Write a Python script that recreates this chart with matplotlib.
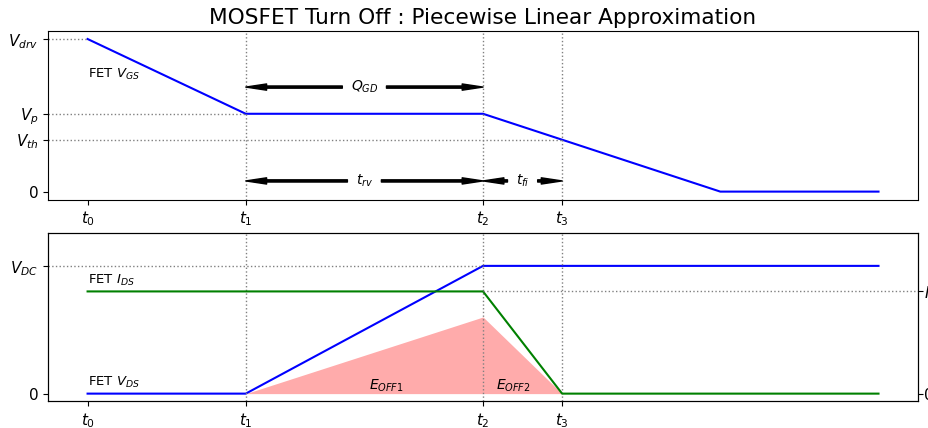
import matplotlib
matplotlib.use("Agg")
import matplotlib.pyplot as plt

# time instants of the piecewise waveforms
t = [0, 1, 2.5, 3, 4, 5]
t_ticks = [0, 1, 2.5, 3]
t_labels = ['$t_0$', '$t_1$', '$t_2$', '$t_3$']

# gate drive levels
v_drv = 10.0
v_p = 5.1
v_th = 3.4
vgs = [v_drv, v_p, v_p, v_th, 0, 0]

# drain side, normalised to V_DC
v_dc = 1.0
i_ds = 0.8
vds = [0, 0, v_dc, v_dc, v_dc, v_dc]
ids = [i_ds, i_ds, i_ds, 0, 0, 0]
p_loss = [0, 0, 0.6, 0, 0, 0]

fig = plt.figure(figsize=(9.29, 4.28), dpi=100)
ax1 = fig.add_axes([0.0517, 0.5327, 0.9365, 0.394])
ax2 = fig.add_axes([0.0517, 0.0624, 0.9365, 0.394])

xlim = (-0.25, 5.25)
dot = dict(color='gray', linestyle=':', linewidth=1)

# --- gate-source voltage ---
ax1.set_title('MOSFET Turn Off : Piecewise Linear Approximation', fontsize=15.6, pad=5)
ax1.plot(t, vgs, color='blue', linewidth=1.5)
ax1.set_xlim(xlim)
ax1.set_ylim(-0.55, 10.5)
for tt in t_ticks[1:]:
    ax1.axvline(tt, **dot)
ax1.hlines(v_drv, xlim[0], t[0], **dot)
ax1.hlines(v_p, xlim[0], t[1], **dot)
ax1.hlines(v_th, xlim[0], t[3], **dot)
ax1.set_xticks(t_ticks)
ax1.set_xticklabels(t_labels, fontsize=11)
ax1.set_yticks([0, v_th, v_p, v_drv])
ax1.set_yticklabels(['0', '$V_{th}$', '$V_p$', '$V_{drv}$'], fontsize=11)
ax1.text(t[0], 7.7, 'FET $V_{GS}$', fontsize=9.5, va='center', ha='left')


def span_arrow(ax, x0, x1, y, label):
    # label in the middle, one arrow running out to each end
    arrow = dict(facecolor='black', edgecolor='black', width=1.6,
                 headwidth=4.5, headlength=15, shrink=0)
    box = dict(boxstyle='square,pad=0.6', facecolor='none', edgecolor='none')
    mid = (x0 + x1) / 2
    for end, colour in ((x0, 'black'), (x1, 'none')):
        ax.annotate(label, xy=(end, y), xytext=(mid, y), fontsize=10, color=colour,
                    ha='center', va='center', bbox=box, arrowprops=arrow)


span_arrow(ax1, t[1], t[2], 6.85, '$Q_{GD}$')
span_arrow(ax1, t[1], t[2], 0.7, '$t_{rv}$')
span_arrow(ax1, t[2], t[3], 0.7, '$t_{fi}$')

# --- drain-source voltage, current and switching loss ---
ax2.fill_between(t, p_loss, color='red', alpha=0.33, linewidth=0)
ax2.plot(t, vds, color='blue', linewidth=1.5)
ax2.set_xlim(xlim)
ax2.set_ylim(-0.06, 1.26)
for tt in t_ticks[1:]:
    ax2.axvline(tt, **dot)
ax2.hlines(v_dc, xlim[0], t[2], **dot)
ax2.set_xticks(t_ticks)
ax2.set_xticklabels(t_labels, fontsize=11)
ax2.set_yticks([0, v_dc])
ax2.set_yticklabels(['0', '$V_{DC}$'], fontsize=11)
ax2.text(t[0], 0.03, 'FET $V_{DS}$', fontsize=9.5, va='bottom', ha='left')
ax2.text(t[0], i_ds + 0.03, 'FET $I_{DS}$', fontsize=9.5, va='bottom', ha='left')
ax2.text(1.89, 0.06, '$E_{OFF1}$', fontsize=10, ha='center', va='center')
ax2.text(2.69, 0.06, '$E_{OFF2}$', fontsize=10, ha='center', va='center')

ax3 = ax2.twinx()
ax3.plot(t, ids, color='green', linewidth=1.5)
ax3.set_xlim(xlim)
ax3.set_ylim(-0.06, 1.26)
ax3.hlines(i_ds, t[2], xlim[1], **dot)
ax3.set_yticks([0, i_ds])
ax3.set_yticklabels(['0', '$I_{DS}$'], fontsize=11)
ax3.tick_params(axis='y', pad=1)

fig.savefig('out.png', dpi=100)
